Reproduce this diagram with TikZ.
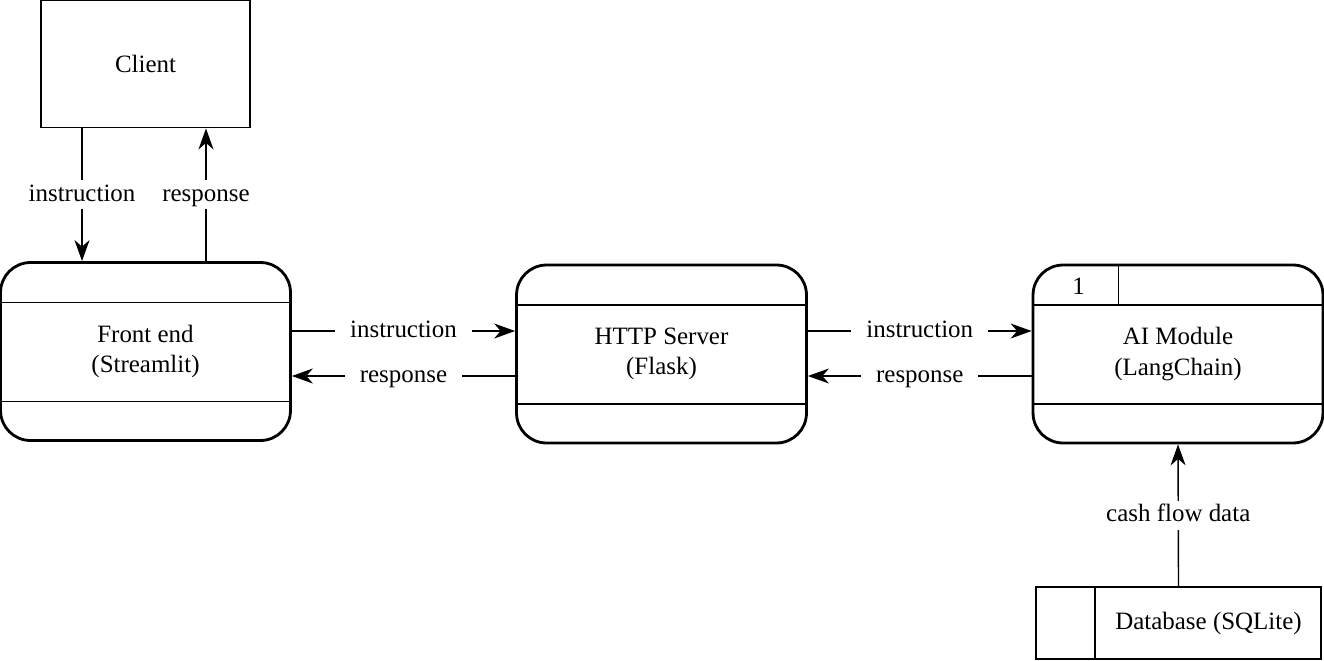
\documentclass[tikz,border=0pt]{standalone}
\usepackage{fontspec}
\setmainfont{Liberation Serif}
\usetikzlibrary{arrows.meta}
\tikzset{
  process/.style={draw, line width=1.6pt, rounded corners=0.6cm, minimum width=5.8cm, minimum height=3.56cm, align=center},
  entity/.style={draw, line width=1.1pt, minimum width=4.18cm, minimum height=2.54cm},
  store/.style={draw, line width=1.1pt, minimum width=5.7cm, minimum height=1.44cm},
  divider/.style={line width=0.8pt},
  flow/.style={line width=0.8pt, -{Stealth[length=0.42cm, width=0.3cm, inset=0.13cm]}},
  lbl/.style={fill=white, inner xsep=0.3cm, inner ysep=0.1cm, text height=2ex, text depth=0.4ex}
}
\begin{document}
\begin{tikzpicture}[x=0.02cm, y=-0.02cm, font=\fontsize{14.2}{17.5}\selectfont]
\useasboundingbox (0,0) rectangle (1324,660);

% entities and processes
\node[entity] (client) at (145.5,64) {Client};
\node[process] (front) at (145.5,351.5) {Front end\\(Streamlit)};
\node[process] (http) at (661.5,354) {HTTP Server\\(Flask)};
\node[process] (ai) at (1178,354) {AI Module\\(LangChain)};
\node[store] (db) at (1178.5,623) {};
\node (dbname) at ([xshift=0.6cm]db.center) {Database (SQLite)};

% inner lines
\foreach \p in {front,http,ai} {
  \draw[divider] ([yshift=-0.83cm]\p.north west) -- ([yshift=-0.83cm]\p.north east);
  \draw[divider] ([yshift=0.81cm]\p.south west) -- ([yshift=0.81cm]\p.south east);
}
\draw[divider] ([xshift=1.74cm]ai.north west) -- ([xshift=1.74cm, yshift=-0.83cm]ai.north west);
\node (ainum) at ([xshift=0.94cm, yshift=-0.45cm]ai.north west) {1};
\draw[line width=1.1pt] ([xshift=1.2cm]db.north west) -- ([xshift=1.2cm]db.south west);

% flows
\draw[flow] ([xshift=-1.27cm]client.south) -- node[lbl] {instruction} ([xshift=-1.27cm]front.north);
\draw[flow] ([xshift=1.21cm]front.north) -- node[lbl] {response} ([xshift=1.21cm]client.south);
\draw[flow] ([yshift=0.41cm]front.east) -- node[lbl] {instruction} ([yshift=0.41cm]front.east -| http.west);
\draw[flow] ([yshift=-0.49cm]front.east -| http.west) -- node[lbl] {response} ([yshift=-0.49cm]front.east);
\draw[flow] ([yshift=0.46cm]http.east) -- node[lbl] {instruction} ([yshift=0.46cm]ai.west);
\draw[flow] ([yshift=-0.44cm]ai.west) -- node[lbl] {response} ([yshift=-0.44cm]http.east);
\draw[flow] (db.north) -- node[lbl] {cash flow data} (ai.south);
\end{tikzpicture}
\end{document}
